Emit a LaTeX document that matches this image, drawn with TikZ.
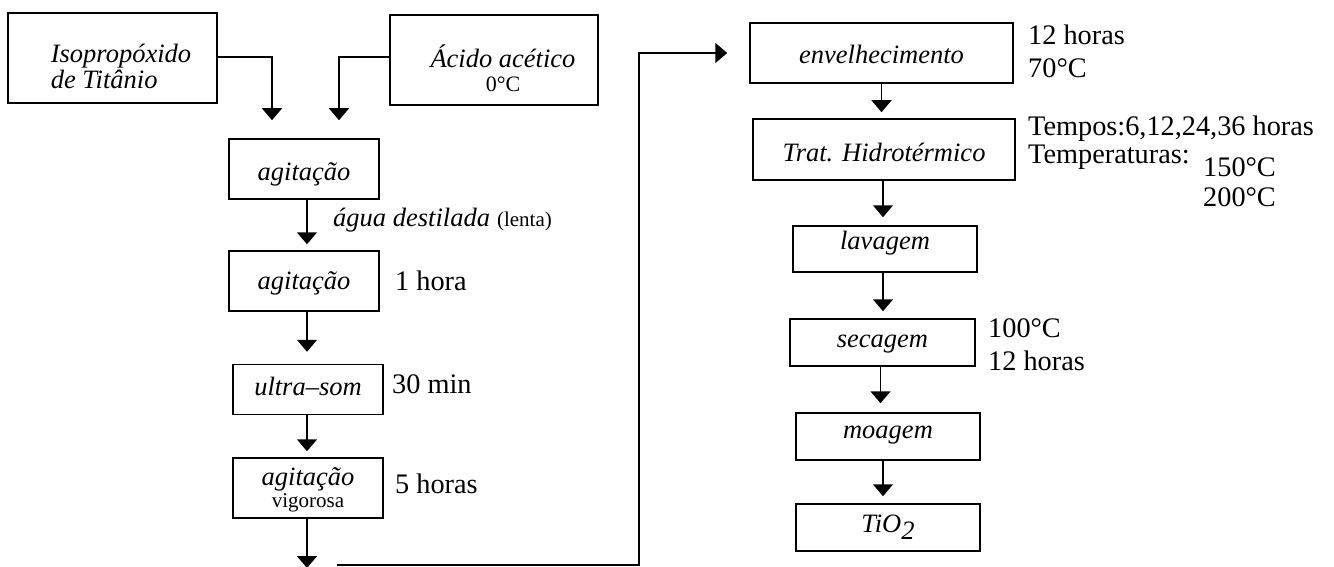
\documentclass[tikz,border=0pt]{standalone}
\usepackage{fontspec}
\setmainfont{Liberation Serif}
\usetikzlibrary{arrows.meta,calc}
\begin{document}
\begin{tikzpicture}[x=1pt,y=-1pt,
  box/.style={draw,line width=1.5pt,inner sep=0pt,font=\fontsize{26.5}{24}\selectfont\itshape,text depth=0pt},
  arr/.style={line width=1.5pt,-{Triangle[width=20pt,length=12pt]}},
  lbl/.style={inner sep=0pt,anchor=base west,font=\fontsize{28.3}{33}\selectfont},
  sm/.style={font=\fontsize{21}{21}\selectfont}]
\useasboundingbox (0,0) rectangle (1334,567);
% left column boxes
\node[box,minimum width=209pt,minimum height=90pt,text height=10pt] (b1) at (112.5,58)
  {\begin{tabular}[t]{@{\hspace{17pt}}l@{}}Isopropóxido\\de Titânio\end{tabular}};
\node[box,minimum width=208pt,minimum height=90pt,text height=16pt] (b2) at (494,60)
  {\begin{tabular}[t]{@{\hspace{18pt}}c@{}}Ácido acético\\{\fontsize{22}{22}\selectfont\upshape 0°C}\end{tabular}};
\node[box,minimum width=150pt,minimum height=60pt,text height=24pt] (ag1) at (304,169) {agitação};
\node[box,minimum width=150pt,minimum height=60pt,text height=16pt] (ag2) at (304,281) {agitação};
\node[box,minimum width=150pt,minimum height=50pt,text height=12pt] (us) at (308,389.5) {ultra–som};
\node[box,minimum width=150pt,minimum height=60pt,text height=0pt,text depth=6pt,font=\fontsize{26.5}{22}\selectfont\itshape] (av) at (308,488)
  {\begin{tabular}[t]{@{}c@{}}agitação\\{\fontsize{21}{21}\selectfont\upshape vigorosa}\end{tabular}};
% right column boxes
\node[box,minimum width=263pt,minimum height=60pt,text height=22pt] (env) at (881.5,53) {envelhecimento};
\node[box,minimum width=262pt,minimum height=61pt,text height=23pt] (trat) at (884,149.5) {Trat. Hidrotérmico};
\node[box,minimum width=184pt,minimum height=46pt,text height=0pt] (lav) at (885,249) {lavagem};
\node[box,minimum width=185pt,minimum height=47pt,text height=9pt] (sec) at (882.5,342.5) {secagem};
\node[box,minimum width=184pt,minimum height=47pt,text height=3pt] (moa) at (888,436.5) {moagem};
\node[box,minimum width=184pt,minimum height=47pt,text height=9pt] (tio) at (888,527.5) {TiO\raisebox{-7pt}{2}};
% helper coordinates
\coordinate (k1) at (272,0);
\coordinate (k2) at (339,0);
\coordinate (c0) at (308,568);
\coordinate (c1) at (337,565);
\coordinate (c2) at (639,565);
% connectors
\draw[arr,shorten >=18pt] ([yshift=1pt]b1.east) -| (ag1.north -| k1);
\draw[arr,shorten >=18pt] ([yshift=3pt]b2.west) -| (ag1.north -| k2);
\draw[arr,shorten >=6pt] ([xshift=3pt]ag1.south) -- ([xshift=3pt]ag2.north);
\draw[arr,shorten >=12pt] ([xshift=-1pt]us.north |- ag2.south) -- ([xshift=-1pt]us.north);
\draw[arr,shorten >=6pt] ([xshift=-1pt]av.north |- us.south) -- ([xshift=-1pt]av.north);
\draw[arr] ([xshift=-1pt]av.south) -- ([xshift=-1pt]c0);
\draw[arr,shorten >=22pt] (c1) -- (c2) |- (env.west);
\draw[arr,shorten >=6pt] (env.south) -- (env.south |- trat.north);
\draw[arr,shorten >=8pt] ([xshift=-1pt]trat.south) -- ([xshift=-1pt]trat.south |- lav.north);
\draw[arr,shorten >=7pt] ([xshift=-2pt]lav.south) -- ([xshift=-2pt]lav.south |- sec.north);
\draw[arr,shorten >=9pt] ([xshift=-2pt]sec.south) -- ([xshift=-2pt]sec.south |- moa.north);
\draw[arr,shorten >=7pt] ([xshift=-5pt]moa.south) -- ([xshift=-5pt]tio.north);
% labels
\node[lbl] (l1) at (333,226) {{\fontsize{26.5}{24}\selectfont\itshape água destilada} {\fontsize{21}{21}\selectfont(lenta)}};
\node[lbl] (l2) at (395,290) {1 hora};
\node[lbl] (l3) at (392,393) {30 min};
\node[lbl] (l4) at (395,493) {5 horas};
\node[lbl] (l5) at (1028,45) {12 horas};
\node[lbl] (l6) at (1028,78) {70°C};
\node[lbl] (l7) at (1028,136) {Tempos:6,12,24,36 horas};
\node[lbl] (l8) at (1028,164) {Temperaturas:};
\node[lbl] (l9) at (1203,176) {150°C};
\node[lbl] (l10) at (1203,207) {200°C};
\node[lbl] (l11) at (988,337) {100°C};
\node[lbl] (l12) at (988,370) {12 horas};
\end{tikzpicture}
\end{document}
